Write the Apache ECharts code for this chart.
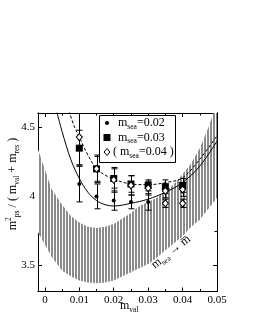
<!DOCTYPE html>
<html><head><meta charset="utf-8">
<script src="https://cdn.jsdelivr.net/npm/echarts/dist/echarts.min.js"></script>
<style>html,body{margin:0;padding:0;background:#fff}#c{width:255px;height:330px}</style>
</head><body><div id="c"></div>
<script>
// ---- tick labels ----
const xTicksMajor = [0, 0.01, 0.02, 0.03, 0.04, 0.05];
const xTickLabels = ['0', '0.01', '0.02', '0.03', '0.04', '0.05'];
const xTicksMinor = [0.005, 0.015, 0.025, 0.035, 0.045];
const yTicksMajor = [3.5, 4, 4.5];
const yTickLabels = ['3.5', '4', '4.5'];
const yTicksMinor = [3.75, 4.25];

// ---- data: m_sea = 0.02 (filled circles) ----
const sea02X = [0.01, 0.015, 0.02, 0.025, 0.03];
const sea02Y = [4.09, 4.00, 3.97, 3.96, 3.96];
const sea02E = [0.13, 0.09, 0.07, 0.05, 0.06];
// ---- m_sea = 0.03 (filled squares) ----
const sea03X = [0.01, 0.015, 0.02, 0.025, 0.03, 0.035, 0.04];
const sea03Y = [4.35, 4.20, 4.13, 4.09, 4.08, 4.07, 4.08];
const sea03E = [0.13, 0.09, 0.07, 0.06, 0.04, 0.05, 0.05];
// ---- ( m_sea = 0.04 ) (open diamonds) ----
const sea04X = [0.01, 0.015, 0.02, 0.025, 0.03, 0.035, 0.04, 0.035, 0.04];
const sea04Y = [4.43, 4.20, 4.12, 4.08, 4.06, 4.04, 4.05, 3.95, 3.95];
const sea04E = [0.20, 0.10, 0.09, 0.07, 0.05, 0.05, 0.05, 0.03, 0.03];

// ---- fit curves ----
const solidX = [0.0035, 0.005, 0.0075, 0.01, 0.0125, 0.015, 0.0175, 0.02, 0.025, 0.03, 0.035, 0.04, 0.045, 0.05];
const solidY = [4.61, 4.47, 4.27, 4.13, 4.03, 3.97, 3.94, 3.93, 3.95, 3.98, 4.03, 4.10, 4.22, 4.40];
const dashX = [0.007, 0.0085, 0.01, 0.0125, 0.015, 0.0175, 0.02, 0.025, 0.03, 0.035, 0.04, 0.045, 0.05];
const dashY = [4.62, 4.51, 4.43, 4.30, 4.20, 4.155, 4.125, 4.09, 4.085, 4.10, 4.135, 4.27, 4.44];

// ---- chiral extrapolation band (m_sea -> m-bar) ----
const bandX = [-0.002, 0.002, 0.005, 0.0075, 0.01, 0.0125, 0.015, 0.0175, 0.02, 0.0225, 0.025, 0.0275, 0.03, 0.0325, 0.035, 0.0375, 0.04, 0.0425, 0.045, 0.0475, 0.05];
const bandHigh = [4.34, 4.05, 3.94, 3.86, 3.81, 3.78, 3.77, 3.78, 3.80, 3.84, 3.88, 3.93, 3.96, 3.99, 4.04, 4.09, 4.16, 4.24, 4.35, 4.50, 4.68];
const bandLow = [3.74, 3.56, 3.46, 3.42, 3.39, 3.375, 3.37, 3.375, 3.39, 3.42, 3.45, 3.48, 3.51, 3.555, 3.61, 3.66, 3.71, 3.78, 3.83, 3.91, 3.99];

const legendValues = ['0.02', '0.03', '0.04'];

const FONT = 'Liberation Serif';
const chart = echarts.init(document.getElementById('c'));

function hatch() {
  const c = document.createElement('canvas');
  c.width = 3; c.height = 4;
  const g = c.getContext('2d');
  g.fillStyle = '#ffffff'; g.fillRect(0, 0, 3, 4);
  g.fillStyle = '#8a8a8a'; g.fillRect(0, 0, 2, 4);
  return c;
}
const hatchPattern = { image: hatch(), repeat: 'repeat' };

function clipOf(params) {
  const cs = params.coordSys;
  return { type: 'rect', shape: { x: cs.x, y: cs.y, width: cs.width, height: cs.height } };
}
function errRender(params, api) {
  const x = api.value(0), y = api.value(1), e = api.value(2);
  const lo = api.coord([x, y - e]), hi = api.coord([x, y + e]);
  const px = Math.round(lo[0]) + 0.5;
  const s = { stroke: '#000', lineWidth: 1 };
  return {
    type: 'group', clipPath: clipOf(params), children: [
      { type: 'line', shape: { x1: px, y1: lo[1], x2: px, y2: hi[1] }, style: s },
      { type: 'line', shape: { x1: px - 3, y1: lo[1], x2: px + 3, y2: lo[1] }, style: s },
      { type: 'line', shape: { x1: px - 3, y1: hi[1], x2: px + 3, y2: hi[1] }, style: s }
    ]
  };
}
function bandRender(params, api) {
  if (params.dataIndex !== 0) return null;
  const pts = [];
  for (let i = 0; i < bandX.length; i++) pts.push(api.coord([bandX[i], bandHigh[i]]));
  for (let i = bandX.length - 1; i >= 0; i--) pts.push(api.coord([bandX[i], bandLow[i]]));
  return { type: 'polygon', shape: { points: pts }, style: { fill: hatchPattern }, clipPath: clipOf(params) };
}
const zip2 = (a, b) => a.map((v, i) => [v, b[i]]);
const zip3 = (a, b, c) => a.map((v, i) => [v, b[i], c[i]]);

const XMIN = -0.002, XMAX = 0.05, YMIN = 3.31, YMAX = 4.605;
const lineS = { lineStyle: { color: '#000', width: 1 } };
function xAx(pos, ticks, len, labels) {
  return {
    type: 'value', min: XMIN, max: XMAX, position: pos, gridIndex: 0,
    axisLine: { show: true, onZero: false, lineStyle: { color: '#000', width: 1 } },
    axisTick: { show: true, inside: true, length: len, customValues: ticks, lineStyle: { color: '#000' } },
    axisLabel: labels ? {
      show: true, customValues: ticks, margin: 3, color: '#000', fontFamily: FONT, fontSize: 11,
      formatter: v => { const i = xTicksMajor.findIndex(t => Math.abs(t - v) < 1e-9); return i >= 0 ? xTickLabels[i] : ''; }
    } : { show: false },
    splitLine: { show: false }, minorTick: { show: false }
  };
}
function yAx(pos, ticks, len, labels) {
  return {
    type: 'value', min: YMIN, max: YMAX, position: pos, gridIndex: 0,
    axisLine: { show: true, onZero: false, lineStyle: { color: '#000', width: 1 } },
    axisTick: { show: true, inside: true, length: len, customValues: ticks, lineStyle: { color: '#000' } },
    axisLabel: labels ? {
      show: true, customValues: ticks, margin: 3, color: '#000', fontFamily: FONT, fontSize: 11,
      formatter: v => { const i = yTicksMajor.findIndex(t => Math.abs(t - v) < 1e-9); return i >= 0 ? yTickLabels[i] : ''; }
    } : { show: false },
    splitLine: { show: false }, minorTick: { show: false }
  };
}

const richBase = {
  m: { fontFamily: FONT, fontSize: 12, color: '#000' },
  s: { fontFamily: FONT, fontSize: 7.5, color: '#000', padding: [8, 0, 0, 0] },
  t: { fontFamily: FONT, fontSize: 12, color: '#000' }
};

const legendRows = legendValues.map((v, i) => {
  const y = 123 + i * 14.5;
  const txt = i === 2 ? '{t|( }{m|m}{s|sea}{t|=' + v + ' )}' : '{m|m}{s|sea}{t|=' + v + '}';
  return { type: 'text', x: i === 2 ? 113 : 118, y: y, z: 101, style: { text: txt, rich: richBase, verticalAlign: 'middle' } };
});

chart.setOption({
  animation: false,
  backgroundColor: '#fff',
  grid: { left: 38, top: 113, right: 38, bottom: 38.5 },
  xAxis: [xAx('bottom', xTicksMajor, 4, true), xAx('bottom', xTicksMinor, 2.5, false),
          xAx('top', xTicksMajor, 4, false), xAx('top', xTicksMinor, 2.5, false)],
  yAxis: [yAx('left', yTicksMajor, 4, true), yAx('left', yTicksMinor, 2.5, false),
          yAx('right', yTicksMajor, 4, false), yAx('right', yTicksMinor, 2.5, false)],
  series: [
    { type: 'custom', renderItem: bandRender, data: zip3(bandX, bandLow, bandHigh), encode: { x: 0, y: 1 }, z: 1, silent: true },
    { type: 'line', data: zip2(solidX, solidY), smooth: 0.35, showSymbol: false, symbol: 'none', lineStyle: { color: '#000', width: 1 }, z: 3 },
    { type: 'line', data: zip2(dashX, dashY), smooth: 0.35, showSymbol: false, symbol: 'none', lineStyle: { color: '#000', width: 1, type: [3, 2] }, z: 3 },
    { type: 'custom', renderItem: errRender, data: zip3(sea02X, sea02Y, sea02E), encode: { x: 0, y: 1 }, z: 4 },
    { type: 'custom', renderItem: errRender, data: zip3(sea03X, sea03Y, sea03E), encode: { x: 0, y: 1 }, z: 4 },
    { type: 'custom', renderItem: errRender, data: zip3(sea04X, sea04Y, sea04E), encode: { x: 0, y: 1 }, z: 4 },
    { type: 'scatter', data: zip2(sea03X, sea03Y), symbol: 'rect', symbolSize: 7, itemStyle: { color: '#000', opacity: 1 }, z: 5 },
    { type: 'scatter', data: zip2(sea04X, sea04Y), symbol: 'diamond', symbolSize: [6, 7], itemStyle: { color: '#fff', borderColor: '#000', borderWidth: 1, opacity: 1 }, z: 6 },
    { type: 'scatter', data: zip2(sea02X, sea02Y), symbol: 'circle', symbolSize: 4, itemStyle: { color: '#000', opacity: 1 }, z: 7 }
  ],
  graphic: [
    { type: 'rect', z: 100, shape: { x: 99.5, y: 115.5, width: 76, height: 47 }, style: { fill: '#fff', stroke: '#000', lineWidth: 1 } },
    { type: 'circle', z: 101, shape: { cx: 107, cy: 123, r: 2 }, style: { fill: '#000' } },
    { type: 'rect', z: 101, shape: { x: 103.5, y: 134, width: 7, height: 7 }, style: { fill: '#000' } },
    { type: 'polygon', z: 101, shape: { points: [[107, 148.5], [110, 152], [107, 155.5], [104, 152]] }, style: { fill: '#fff', stroke: '#000', lineWidth: 1 } },
    ...legendRows,
    { type: 'text', z: 101, x: 120, y: 306, style: { text: '{m|m}{s|val}', rich: richBase, verticalAlign: 'middle' } },
    { type: 'text', z: 101, x: 13, y: 184, rotation: Math.PI / 2,
      style: { text: '{m|m}{p|2}{s|ps}{t| / ( }{m|m}{s|val}{t| + }{m|m}{s|res}{t| )}',
        rich: Object.assign({}, richBase, { p: { fontFamily: FONT, fontSize: 7.5, color: '#000', padding: [0, 0, 8, 0] } }),
        align: 'center', verticalAlign: 'middle' } },
    { type: 'text', z: 101, x: 171, y: 252, rotation: 0.66,
      style: { text: '{m|m}{s|sea}{t| \u2192 }{m|m\u0305}', rich: richBase, align: 'center', verticalAlign: 'middle' } }
  ]
});
</script></body></html>
